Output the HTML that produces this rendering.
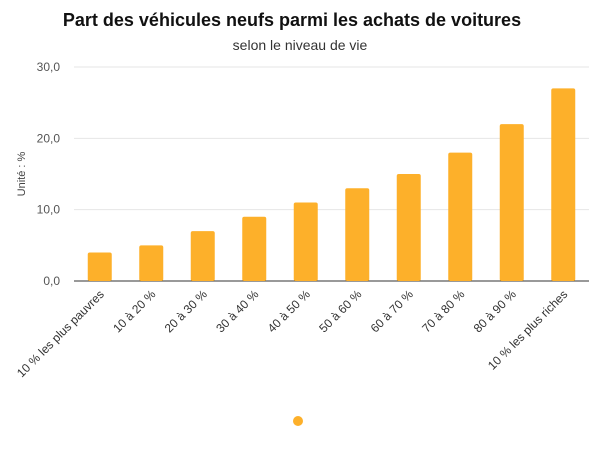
<!DOCTYPE html>
<html><head><meta charset="utf-8"><style>
body{margin:0;background:#fff;font-family:"Liberation Sans",sans-serif;}
</style></head><body>
<svg width="600" height="450" xmlns="http://www.w3.org/2000/svg">
<text x="292" y="26" text-anchor="middle" font-size="18" font-weight="bold" fill="#111">Part des véhicules neufs parmi les achats de voitures</text>
<text x="300" y="50" text-anchor="middle" font-size="14" fill="#333">selon le niveau de vie</text>
<text transform="translate(25,174) rotate(-90)" text-anchor="middle" font-size="11" fill="#444">Unité : %</text>
<g id="grid"></g><g id="bars"></g><g id="xl"></g>
<circle cx="298" cy="421" r="5" fill="#FDB02A"/>
</svg>
<script>
const categories=["10 % les plus pauvres","10 à 20 %","20 à 30 %","30 à 40 %","40 à 50 %","50 à 60 %","60 à 70 %","70 à 80 %","80 à 90 %","10 % les plus riches"];
const values=[4,5,7,9,11,13,15,18,22,27];
const yTicks=[0,10,20,30];
const yTickLabels=["0,0","10,0","20,0","30,0"];
const NS="http://www.w3.org/2000/svg";
const x0=74,x1=589,y0=281,yTop=67,yMax=30;
const y=v=>y0-(v/yMax)*(y0-yTop);
const step=(x1-x0)/categories.length;
const xc=i=>x0+step*(i+0.5);
function mk(t,a,p){const e=document.createElementNS(NS,t);for(const k in a)e.setAttribute(k,a[k]);p.appendChild(e);return e;}
const g=document.getElementById('grid');
yTicks.forEach((t,i)=>{
  const l=mk('line',{x1:x0,x2:x1,y1:y(t),y2:y(t),stroke:t===0?'#333':'#e6e6e6','stroke-width':1},g);
  
  
  const tx=mk('text',{x:60,y:y(t)+4,'text-anchor':'end','font-size':12,fill:'#555'},g);
  tx.textContent=yTickLabels[i];
  
  
});
const b=document.getElementById('bars'),xl=document.getElementById('xl');
values.forEach((v,i)=>{
  const r=mk('rect',{x:xc(i)-12,y:y(v),width:24,height:y0-y(v),fill:'#FDB02A',rx:2},b);
  
  
  const t=mk('text',{transform:`translate(${xc(i)+5},${y0+14}) rotate(-45)`,'text-anchor':'end','font-size':12,fill:'#333'},xl);
  t.textContent=categories[i];
  
  
});
</script>
</body></html>
